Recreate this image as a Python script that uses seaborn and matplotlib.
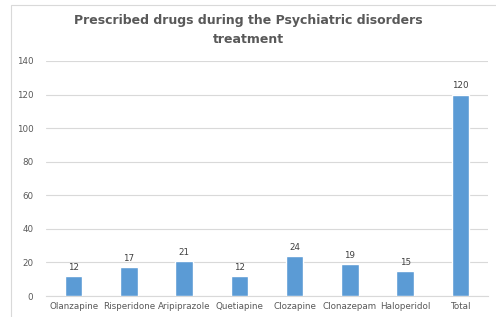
import matplotlib
matplotlib.use("Agg")
import matplotlib.pyplot as plt
import seaborn as sns
import pandas as pd
from matplotlib.patches import Rectangle

drugs = ["Olanzapine", "Risperidone", "Aripiprazole", "Quetiapine",
         "Clozapine", "Clonazepam", "Haloperidol", "Total"]
counts = [12, 17, 21, 12, 24, 19, 15, 120]
yticks = [0, 20, 40, 60, 80, 100, 120, 140]

df = pd.DataFrame({"drug": drugs, "count": counts})

sns.set_style("white")
plt.rcParams["font.family"] = ["DejaVu Sans"]

fig = plt.figure(figsize=(4.96, 3.17), dpi=100)
ax = fig.add_axes([46 / 496, 1 - 296 / 317, 442 / 496, 235 / 317])

sns.barplot(data=df, x="drug", y="count", color="#5B9BD5", saturation=1,
            width=0.32, ax=ax, zorder=3)

ax.set_ylim(0, 140)
ax.set_yticks(yticks)
ax.set_xlim(-0.5, len(drugs) - 0.5)
ax.grid(axis="y", color="#D9D9D9", linewidth=0.8, zorder=0)
ax.set_axisbelow(True)
for s in ["top", "right", "left"]:
    ax.spines[s].set_visible(False)
ax.spines["bottom"].set_color("#D9D9D9")
ax.tick_params(axis="y", length=0, labelsize=6.3, colors="#595959", pad=9)
ax.tick_params(axis="x", length=0, labelsize=6.3, colors="#595959", pad=4)
ax.set_xlabel("")
ax.set_ylabel("")

for i, v in enumerate(counts):
    ax.text(i, v + 2.5, str(v), ha="center", va="bottom", fontsize=6.3, color="#404040")

fig.text(0.5, 0.905, "Prescribed drugs during the Psychiatric disorders\ntreatment",
         ha="center", va="center", fontsize=9, fontweight="bold", color="#595959",
         linespacing=1.6)

fig.patches.append(Rectangle((11 / 496, -0.02), 1.0, 1 - 5 / 317 + 0.02,
                             transform=fig.transFigure, fill=False,
                             edgecolor="#D9D9D9", linewidth=0.8))

fig.savefig("out.png", dpi=100)
plt.close(fig)
